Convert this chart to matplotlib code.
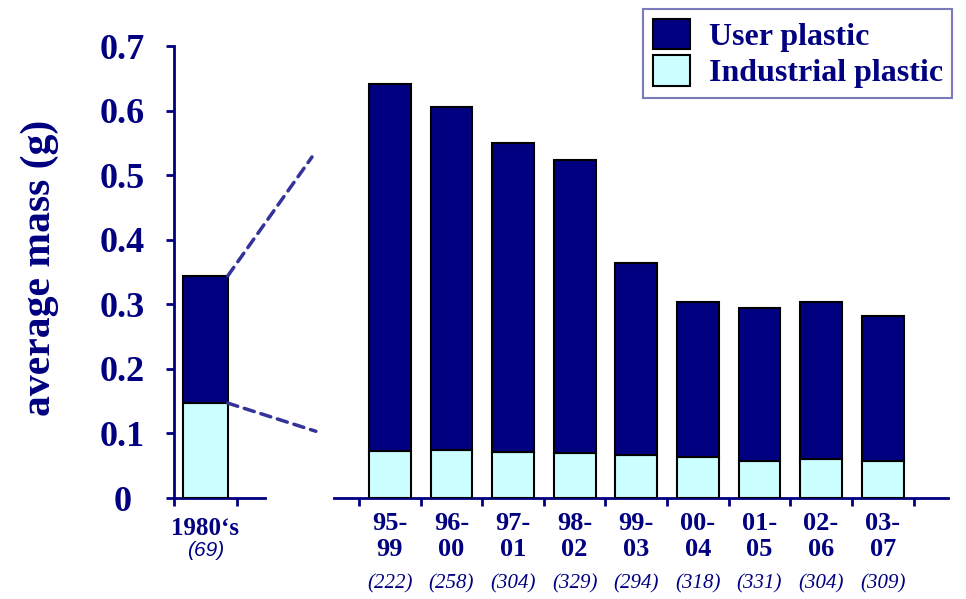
import matplotlib.pyplot as plt
import numpy as np
from matplotlib.patches import Patch, ConnectionPatch

NAVY = "#000080"
LIGHT = "#ccffff"
DASH = "#333399"

# 1980's reference bar
OLD_LABEL = "1980\u2018s"
OLD_COUNT = "(69)"
OLD_USER_TOTAL = 0.344
OLD_INDUSTRIAL = 0.147

# running 5-year periods
PERIODS = ["95-\n99", "96-\n00", "97-\n01", "98-\n02", "99-\n03",
           "00-\n04", "01-\n05", "02-\n06", "03-\n07"]
COUNTS = ["(222)", "(258)", "(304)", "(329)", "(294)",
          "(318)", "(331)", "(304)", "(309)"]
TOTAL = [0.641, 0.606, 0.550, 0.524, 0.364, 0.303, 0.294, 0.303, 0.282]
INDUSTRIAL = [0.073, 0.075, 0.072, 0.070, 0.067, 0.064, 0.058, 0.061, 0.058]

SERIF = "Liberation Serif"


def style_axis(ax):
    for s in ["top", "right"]:
        ax.spines[s].set_visible(False)
    for s in ["left", "bottom"]:
        ax.spines[s].set_color(NAVY)
        ax.spines[s].set_linewidth(2)
    ax.tick_params(axis="both", which="major", color=NAVY, width=2, length=6)
    ax.tick_params(axis="x", which="minor", length=0, pad=10)
    ax.set_ylim(0, 0.7)


def main() -> None:
    fig = plt.figure(figsize=[9.66, 5.99], dpi=100)

    # left panel: 1980's
    ax1 = fig.add_axes([0.180, 0.1686, 0.0942, 0.7546])
    style_axis(ax1)
    user1 = OLD_USER_TOTAL - OLD_INDUSTRIAL
    ax1.bar([0], [OLD_INDUSTRIAL], width=0.71, color=LIGHT,
            edgecolor="black", linewidth=1.5, zorder=3)
    ax1.bar([0], [user1], bottom=[OLD_INDUSTRIAL], width=0.71, color=NAVY,
            edgecolor="black", linewidth=1.5, zorder=3)
    ax1.set_xlim(-0.5, 0.944)
    ax1.set_xticks([-0.5, 0.5])
    ax1.set_xticklabels([])
    ax1.set_xticks([0], minor=True)
    ax1.set_xticklabels([OLD_LABEL], minor=True, fontfamily=SERIF,
                        fontweight="bold", fontsize=18, color=NAVY)
    ax1.tick_params(axis="x", which="minor", pad=14)
    ax1.text(0, -0.117, OLD_COUNT, transform=ax1.get_xaxis_transform(),
             ha="center", va="center", fontsize=15, style="italic",
             color=NAVY, fontfamily="Liberation Sans")

    yt = np.arange(0, 0.71, 0.1)
    ax1.set_yticks(yt)
    ax1.set_yticklabels(["0"] + [f"{v:.1f}" for v in yt[1:]],
                        fontfamily=SERIF, fontweight="bold", fontsize=26,
                        color=NAVY, ha="center")
    ax1.tick_params(axis="y", pad=31)
    fig.text(40 / 966, 1 - 268 / 599, "average mass (g)", rotation=90,
             ha="center", va="center", fontfamily=SERIF, fontweight="bold",
             fontsize=30, color=NAVY)

    # right panel: running periods
    ax2 = fig.add_axes([0.3458, 0.1686, 0.6356, 0.7546])
    style_axis(ax2)
    ax2.spines["left"].set_visible(False)
    ax2.set_yticks([])
    x = np.arange(len(PERIODS))
    user = np.array(TOTAL) - np.array(INDUSTRIAL)
    ax2.bar(x, INDUSTRIAL, width=0.68, color=LIGHT, edgecolor="black",
            linewidth=1.5, zorder=3)
    ax2.bar(x, user, bottom=INDUSTRIAL, width=0.68, color=NAVY,
            edgecolor="black", linewidth=1.5, zorder=3)
    ax2.set_xlim(-0.906, 9.06)
    ax2.set_xticks(np.arange(len(PERIODS) + 1) - 0.5)
    ax2.set_xticklabels([])
    ax2.set_xticks(x, minor=True)
    ax2.set_xticklabels(PERIODS, minor=True, fontfamily=SERIF,
                        fontweight="bold", fontsize=19, color=NAVY,
                        linespacing=1.15)
    for xi, c in zip(x, COUNTS):
        ax2.text(xi, -0.19, c, transform=ax2.get_xaxis_transform(),
                 ha="center", va="center", fontsize=15, style="italic",
                 color=NAVY, fontfamily=SERIF)

    # dashed zoom lines from the 1980's bar
    for yv, end in [(OLD_USER_TOTAL, (0.323, 0.738)),
                    (OLD_INDUSTRIAL, (0.327, 0.280))]:
        con = ConnectionPatch(xyA=(0.355, yv), coordsA=ax1.transData,
                              xyB=end, coordsB=fig.transFigure,
                              color=DASH, linestyle=(0, (3, 2)),
                              linewidth=2.5)
        fig.add_artist(con)

    handles = [Patch(facecolor=NAVY, edgecolor="black", linewidth=1.5),
               Patch(facecolor=LIGHT, edgecolor="black", linewidth=1.5)]
    leg = fig.legend(handles, ["User plastic", "Industrial plastic"],
                     loc="upper right", bbox_to_anchor=(0.986, 0.985),
                     prop={"family": SERIF, "weight": "bold", "size": 23},
                     frameon=True, fancybox=False, handlelength=1.15,
                     handleheight=1.1, labelspacing=0.1, handletextpad=0.6,
                     borderpad=0.3, borderaxespad=0.0)
    for t in leg.get_texts():
        t.set_color(NAVY)
    leg.get_frame().set_edgecolor("#5a5aa8")
    leg.get_frame().set_linewidth(1.5)

    fig.savefig("out.png", dpi=100)


if __name__ == '__main__':
    main()
